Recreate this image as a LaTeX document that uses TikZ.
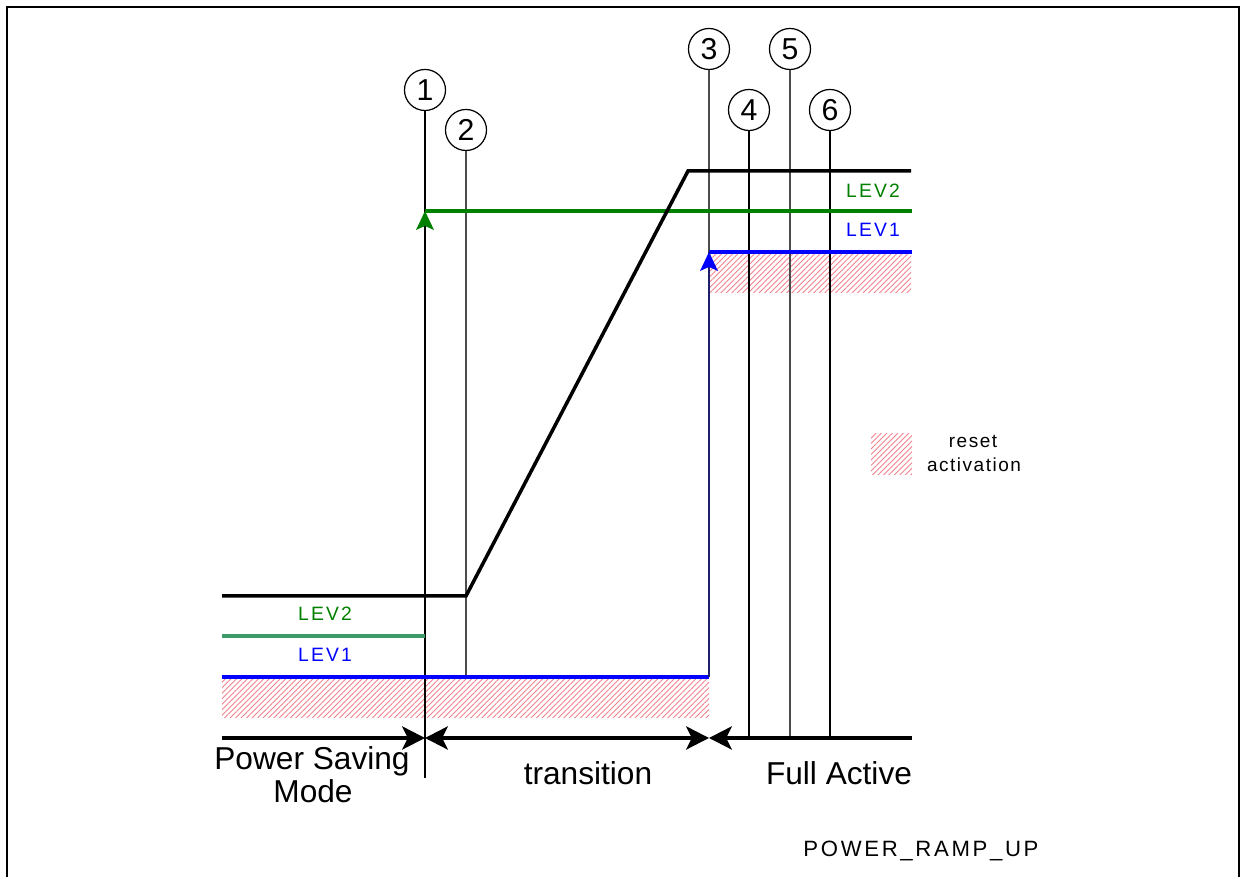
\documentclass[tikz,border=0pt]{standalone}
\usepackage{fontspec}
\setmainfont{Liberation Sans}
\newfontfamily\levfont[LetterSpace=11]{Liberation Sans}
\newfontfamily\capfont[LetterSpace=12]{Liberation Sans}
\newfontfamily\legfont[LetterSpace=8]{Liberation Sans}
\usetikzlibrary{arrows.meta,patterns.meta}
\definecolor{levgreen}{RGB}{0,128,0}
\definecolor{lowgreen}{RGB}{60,155,105}
\definecolor{levblue}{RGB}{0,0,255}
\definecolor{navyline}{RGB}{30,30,110}
\definecolor{hatchred}{RGB}{240,130,140}
\tikzset{
  sig/.style={line width=1pt},
  thinv/.style={line width=0.35pt},
  numcirc/.style={circle,draw,line width=0.35pt,minimum size=0.41cm,inner sep=0pt,font=\fontsize{8.6}{9}\selectfont},
  hatch/.style={pattern={Lines[angle=45,distance=1.1pt,line width=0.25pt]},pattern color=hatchred},
  bigtip/.style={-{Stealth[length=6.5pt,width=6.6pt,inset=1.6pt]}},
  lbl/.style={font=\fontsize{9}{10}\selectfont,inner sep=0pt,anchor=base},
  levlbl/.style={font=\levfont\fontsize{5.5}{6}\selectfont,inner sep=0pt,anchor=base},
}
\begin{document}
\begin{tikzpicture}[x=0.01cm,y=-0.01cm]
\useasboundingbox (0,0) rectangle (1241,877);
\draw[line width=0.6pt] (7,877) -- (7,7) -- (1239,7) -- (1239,877);

% hatched areas
\fill[hatch] (222,679) rectangle (709,718);
\fill[hatch] (710,254) rectangle (911,293);

% numbered circles
\node[numcirc] (c1) at (425,90) {1};
\node[numcirc] (c2) at (466,130) {2};
\node[numcirc] (c3) at (709,49) {3};
\node[numcirc] (c4) at (749,110) {4};
\node[numcirc] (c5) at (790,49) {5};
\node[numcirc] (c6) at (830,110) {6};

% coordinates
\coordinate (e1) at (425,778);
\coordinate (a1) at (425,211);
\coordinate (e2) at (466,677);
\coordinate (e3) at (709,677);
\coordinate (a3) at (709,252);
\coordinate (e4) at (749,738);
\coordinate (e5) at (790,738);
\coordinate (e6) at (830,738);

% vertical marker lines
\draw[thinv] (c1) -- (e1);
\draw[thinv,black!70] (c2) -- (e2);
\draw[thinv,black!70] (c3) -- (a3);
\draw[thinv] (c4) -- (e4);
\draw[thinv,black!70] (c5) -- (e5);
\draw[thinv] (c6) -- (e6);

% low levels
\coordinate (lg0) at (222,636);
\coordinate (lg1) at (425,636);
\draw[sig,lowgreen] (lg0) -- (lg1);
\coordinate (lb0) at (222,677);
\draw[sig,levblue] (lb0) -- (e3);

% high levels
\coordinate (hg1) at (912,211);
\draw[sig,levgreen] (a1) -- (hg1);
\coordinate (hb1) at (912,252);
\draw[sig,levblue] (a3) -- (hb1);

% arrows up
\fill[levgreen] (a1) -- ++(-9,19) -- ++(9,-4) -- ++(9,4) -- cycle;
\draw[thinv,navyline] (e3) -- (a3);
\fill[levblue] (a3) -- ++(-9,19) -- ++(9,-4) -- ++(9,4) -- cycle;

% supply signal
\coordinate (s0) at (222,596);
\coordinate (s1) at (466,596);
\coordinate (s2) at (688,171);
\coordinate (s3) at (911,171);
\draw[sig,line join=miter] (s0) -- (s1) -- (s2) -- (s3);

% labels on levels
\node[levlbl,text=levgreen] (l2a) at (325,621) {LEV2};
\node[levlbl,text=levblue] (l1a) at (325,662) {LEV1};
\node[levlbl,text=levgreen] (l2b) at (873,198) {LEV2};
\node[levlbl,text=levblue] (l1b) at (873,237) {LEV1};

% timeline
\coordinate (t0) at (222,738);
\coordinate (t1) at (425,738);
\coordinate (t2) at (709,738);
\coordinate (t3) at (912,738);
\draw[sig,bigtip] (t0) -- (t1);
\draw[sig,{Stealth[length=6.5pt,width=6.6pt,inset=1.6pt]}-{Stealth[length=6.5pt,width=6.6pt,inset=1.6pt]}] (t1) -- (t2);
\draw[sig,bigtip] (t3) -- (t2);

\node[lbl] (ps) at (312,770) {Power Saving};
\node[lbl] (md) at (313,803) {Mode};
\node[lbl] (tr) at (588,785) {transition};
\node[lbl] (fa) at (839,785) {Full Active};

% legend
\fill[hatch] (871,434) rectangle (912,475);
\node[font=\legfont\fontsize{5.4}{6}\selectfont,inner sep=0pt,anchor=base] (rs) at (973,448) {reset};
\node[font=\legfont\fontsize{5.4}{6}\selectfont,inner sep=0pt,anchor=base] (ac) at (974,472) {activation};

\node[font=\capfont\fontsize{6.3}{7}\selectfont,inner sep=0pt,anchor=base] (cap) at (921,857) {POWER\_RAMP\_UP};
\end{tikzpicture}
\end{document}
